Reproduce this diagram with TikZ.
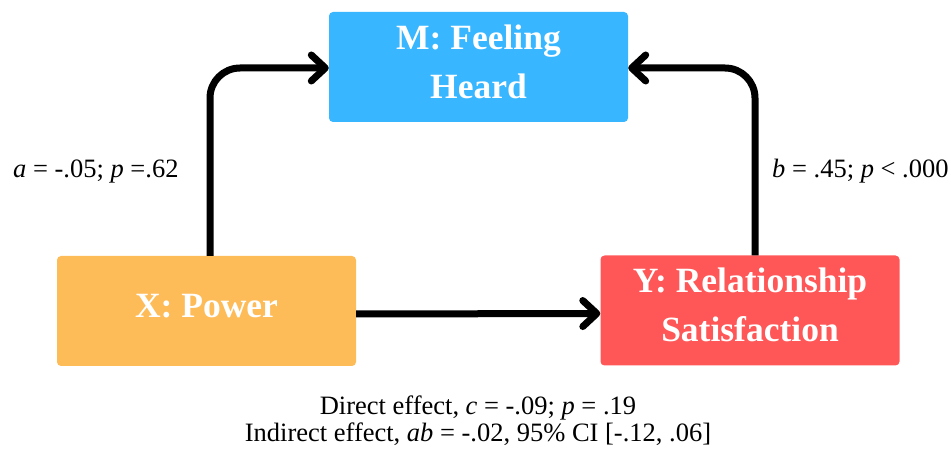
\documentclass[tikz,border=0pt]{standalone}
\usepackage{fontspec}
\setmainfont{Liberation Serif}
\usetikzlibrary{arrows.meta}
\definecolor{heardblue}{RGB}{56,182,255}
\definecolor{powerorange}{RGB}{254,188,89}
\definecolor{satisred}{RGB}{255,87,87}

\begin{document}
\begin{tikzpicture}[x=1pt,y=-1pt,
	box/.style={rounded corners=4pt, minimum width=299pt, minimum height=110pt, inner sep=0pt, text depth=11pt, align=center, text=white, font=\fontsize{35.5}{49}\selectfont\bfseries},
	arr/.style={line width=7pt, rounded corners=30pt, -{Straight Barb[length=14pt, width=26pt, round]}},
	lbl/.style={inner sep=0pt, font=\fontsize{26.5}{27.3}\selectfont}]
			\useasboundingbox (0,0) rectangle (951,454);
			%boxes
			\node[box, fill=heardblue] (heard) at (478.5,67) {M: Feeling\\Heard};
			\node[box, fill=powerorange] (power) at (206.5,311) {X: Power};
			\node[box, fill=satisred] (satis) at (750,310.5) {Y: Relationship\\Satisfaction};
			
			% add arrow
			\draw[arr] ([xshift=3.5pt]power.north) |- ([yshift=-1pt]heard.west);
			\draw[arr] ([xshift=5pt]satis.north) |- ([yshift=-1pt]heard.east);
			\draw[arr] ([yshift=-3pt]power.east) -- ([yshift=-3pt]satis.west);
			
			% path labels
			\node[lbl, anchor=base west] (apath) at (13,178) {\textit{a} = -.05; \textit{p} =.62};
			\node[lbl, anchor=base west] (bpath) at (772,178) {\textit{b} = .45; \textit{p} < .000};
			\node[lbl, anchor=base, align=center] (effects) at (478,442) {Direct effect, \textit{c} = -.09; \textit{p} = .19\\Indirect effect, \textit{ab} = -.02, 95\% CI [-.12, .06]};
		\end{tikzpicture}
\end{document}
